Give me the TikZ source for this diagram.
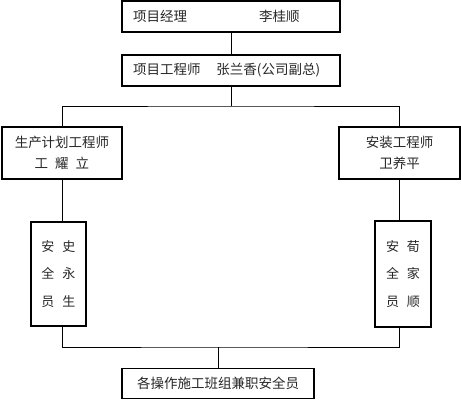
\documentclass[tikz,border=0pt]{standalone}
\usepackage{fontspec}
\newfontfamily\cjk{Noto Sans CJK SC}
\begin{document}
\begin{tikzpicture}[x=1pt,y=-1pt,
  box/.style={draw=black,line width=1.3pt,inner sep=0pt,font=\cjk\fontsize{13.5}{21}\selectfont,text=black!85},
  conn/.style={draw=black,line width=0.9pt}]
\useasboundingbox (0,0) rectangle (461,400);
\node[box,minimum width=218,minimum height=31,text width=196,inner xsep=11,align=left] (pm) at (231,16.5) {项目经理\hspace{72pt}李桂顺};
\node[box,minimum width=218,minimum height=31,text width=196,inner xsep=11,align=left] (pe) at (231,70.5) {项目工程师\hspace{16pt}张兰香(公司副总)};
\node[box,minimum width=120,minimum height=52,align=center] (lp) at (62,153) {生产计划工程师\\工\hspace{7pt}耀\hspace{7pt}立};
\node[box,minimum width=121,minimum height=52,align=center] (ri) at (399.5,153) {安装工程师\\卫养平};
\node[box,minimum width=55,minimum height=104,align=center,font=\cjk\fontsize{13}{27.5}\selectfont] (ls) at (58.5,274) {安\hspace{8pt}史\\全\hspace{8pt}永\\员\hspace{8pt}生};
\node[box,minimum width=56,minimum height=106,align=center,font=\cjk\fontsize{13}{27.5}\selectfont] (rs) at (403,274) {安\hspace{8pt}荀\\全\hspace{8pt}家\\员\hspace{8pt}顺};
\node[box,minimum width=192,minimum height=29.5,align=center] (bt) at (218,383.5) {各操作施工班组兼职安全员};
\coordinate (busT) at (231,106);
\coordinate (busB) at (218,347);
\draw[conn] (pm.south) -- (pe.north);
\draw[conn] (pe.south) -- (busT);
\draw[conn] (lp.north) |- (busT) -| (ri.north);
\draw[conn] (lp.south) -- (lp.south |- ls.north);
\draw[conn] (ri.south) -- (ri.south |- rs.north);
\draw[conn] (lp.south |- ls.south) |- (busB) -| (ri.south |- rs.south);
\draw[conn] (busB) -- (bt.north);
\end{tikzpicture}
\end{document}
